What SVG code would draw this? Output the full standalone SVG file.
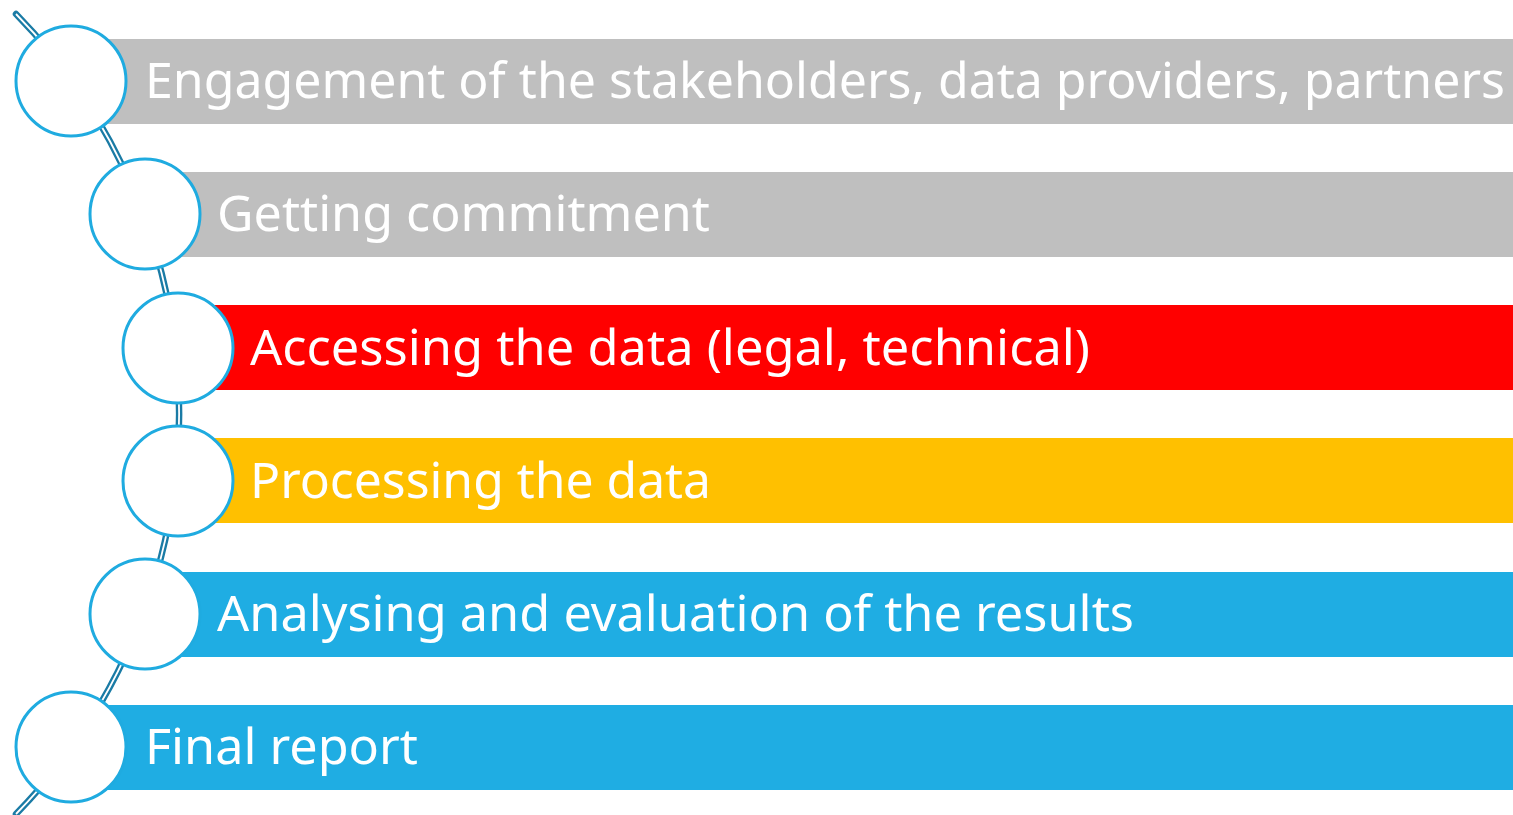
<svg xmlns="http://www.w3.org/2000/svg" width="1513" height="815" viewBox="0 0 1513 815">
<style>
.bar{stroke:none}
.node circle{fill:#fff;stroke:#1FABE0;stroke-width:3}
.lbl{font-family:"Noto Sans","Open Sans",sans-serif;font-size:50px;fill:#fff}
</style>
<rect width="1513" height="815" fill="#fff"/>
<g id="connectors">
<path d="M 16 14 A 572 572 0 0 1 16 814" fill="none" stroke="#1A7BA5" stroke-width="6.5" stroke-linecap="round"/>
<path d="M 16 14 A 572 572 0 0 1 16 814" fill="none" stroke="#fff" stroke-width="1.8"/>
</g>
<g id="n1" class="node">
<rect class="bar" x="71" y="39" width="1442" height="85" fill="#BFBFBF"/>
<circle cx="71" cy="81" r="55"/>
<text class="lbl" x="145" y="98" textLength="1360" lengthAdjust="spacingAndGlyphs">Engagement of the stakeholders, data providers, partners</text>
</g>
<g id="n2" class="node">
<rect class="bar" x="145" y="172" width="1368" height="85" fill="#BFBFBF"/>
<circle cx="145" cy="214" r="55"/>
<text class="lbl" x="217" y="231" textLength="493" lengthAdjust="spacingAndGlyphs">Getting commitment</text>
</g>
<g id="n3" class="node">
<rect class="bar" x="178" y="305" width="1335" height="85" fill="#FF0000"/>
<circle cx="178" cy="348" r="55"/>
<text class="lbl" x="250" y="365" textLength="840" lengthAdjust="spacingAndGlyphs">Accessing the data (legal, technical)</text>
</g>
<g id="n4" class="node">
<rect class="bar" x="178" y="438" width="1335" height="85" fill="#FFC000"/>
<circle cx="178" cy="481" r="55"/>
<text class="lbl" x="250" y="498" textLength="461" lengthAdjust="spacingAndGlyphs">Processing the data</text>
</g>
<g id="n5" class="node">
<rect class="bar" x="145" y="572" width="1368" height="85" fill="#1FADE3"/>
<circle cx="145" cy="614" r="55"/>
<text class="lbl" x="217" y="631" textLength="917" lengthAdjust="spacingAndGlyphs">Analysing and evaluation of the results</text>
</g>
<g id="n6" class="node">
<rect class="bar" x="71" y="705" width="1442" height="85" fill="#1FADE3"/>
<circle cx="71" cy="747" r="55"/>
<text class="lbl" x="145" y="764" textLength="273" lengthAdjust="spacingAndGlyphs">Final report</text>
</g>
</svg>
